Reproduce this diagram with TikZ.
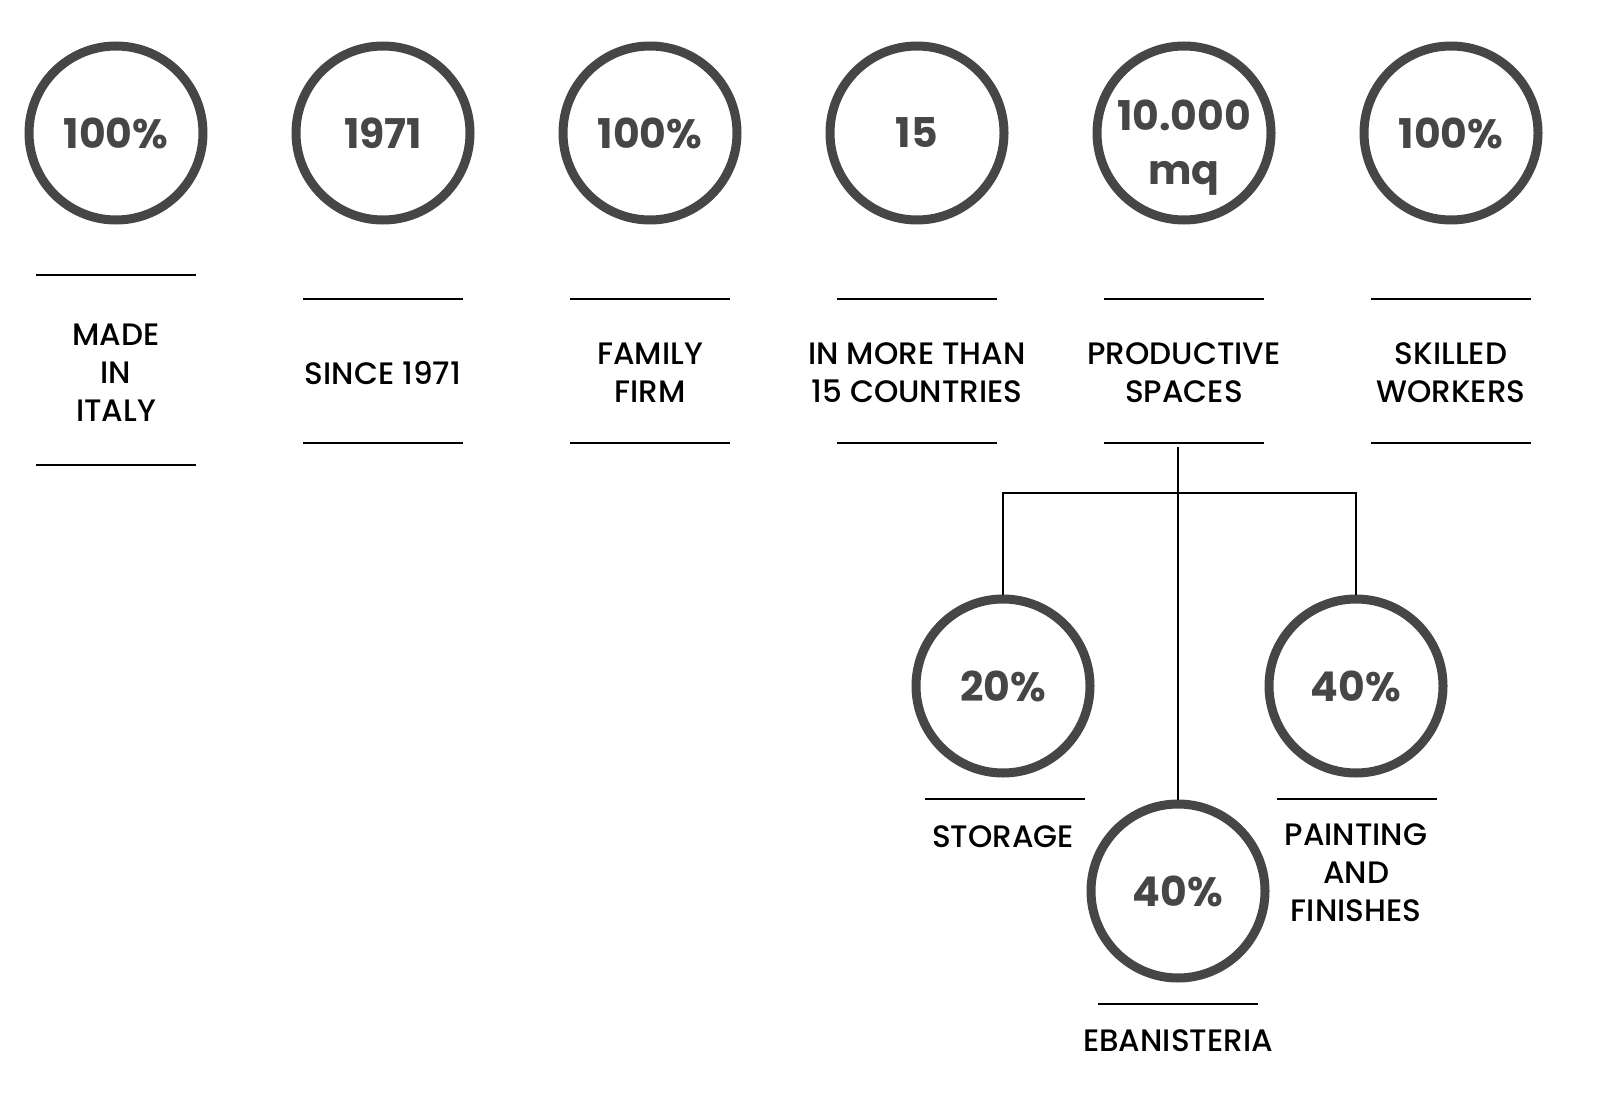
\documentclass[tikz,border=0pt]{standalone}
\usepackage{fontspec}
\setmainfont{Poppins}[UprightFont=* Medium,BoldFont=* Bold]
\usepackage{xcolor}
\usepackage{tikz}
\definecolor{ringgray}{HTML}{464646}

\begin{document}
\begin{tikzpicture}[x=1pt,y=-1pt,
  ring/.style={circle,draw=ringgray,line width=9pt,minimum size=174pt,inner sep=0pt,
    text=ringgray,align=center,font=\fontsize{41}{54}\selectfont\bfseries},
  caption/.style={align=center,text=black,font=\fontsize{31}{38}\selectfont},
  rule/.style={line width=2pt,black}]
\useasboundingbox (0,0) rectangle (1600,1115);

% top row of rings
\node[ring] (italy) at (116,133) {100\%};
\node[ring] (since) at (383,133) {1971};
\node[ring] (family) at (650,133) {100\%};
\node[ring] (countries) at (917,133) {15};
\node[ring] (spaces) at (1184,133) {};
\node[ring,draw=none] (spacesN) at (1184,148) {10.000\\mq};
\node[ring] (workers) at (1451,133) {100\%};

% rules above and below the captions
\draw[rule] (36,275) -- (196,275);
\draw[rule] (36,465) -- (196,465);
\draw[rule] (303,299) -- (463,299);
\draw[rule] (303,443) -- (463,443);
\draw[rule] (570,299) -- (730,299);
\draw[rule] (570,443) -- (730,443);
\draw[rule] (837,299) -- (997,299);
\draw[rule] (837,443) -- (997,443);
\draw[rule] (1104,299) -- (1264,299);
\draw[rule] (1104,443) -- (1264,443);
\draw[rule] (1371,299) -- (1531,299);
\draw[rule] (1371,443) -- (1531,443);

\node[caption] (italyT) at (116,373) {MADE\\IN\\ITALY};
\node[caption] (sinceT) at (383,373) {SINCE 1971};
\node[caption] (familyT) at (650,373) {FAMILY\\FIRM};
\node[caption] (countriesT) at (917,373) {IN MORE THAN\\15 COUNTRIES};
\node[caption] (spacesT) at (1184,373) {PRODUCTIVE\\SPACES};
\node[caption] (workersT) at (1451,373) {SKILLED\\WORKERS};

% split of the productive spaces
\node[ring] (storage) at (1003,686) {20\%};
\node[ring] (painting) at (1356,686) {40\%};
\node[ring] (ebanist) at (1178,891) {40\%};

\draw[rule] (925,799) -- (1085,799);
\draw[rule] (1277,799) -- (1437,799);
\draw[rule] (1098,1004) -- (1258,1004);

\node[caption] (storageT) at (1003,837) {STORAGE};
\node[caption] (paintingT) at (1356,873) {PAINTING\\AND\\FINISHES};
\node[caption] (ebanistT) at (1178,1041) {EBANISTERIA};

\coordinate (root) at (1178,447);
\coordinate (fork) at (1178,493);
\draw[rule] (root) -- (ebanist.north);
\draw[rule] (storage.north) |- (fork) -| (painting.north);
\end{tikzpicture}
\end{document}
